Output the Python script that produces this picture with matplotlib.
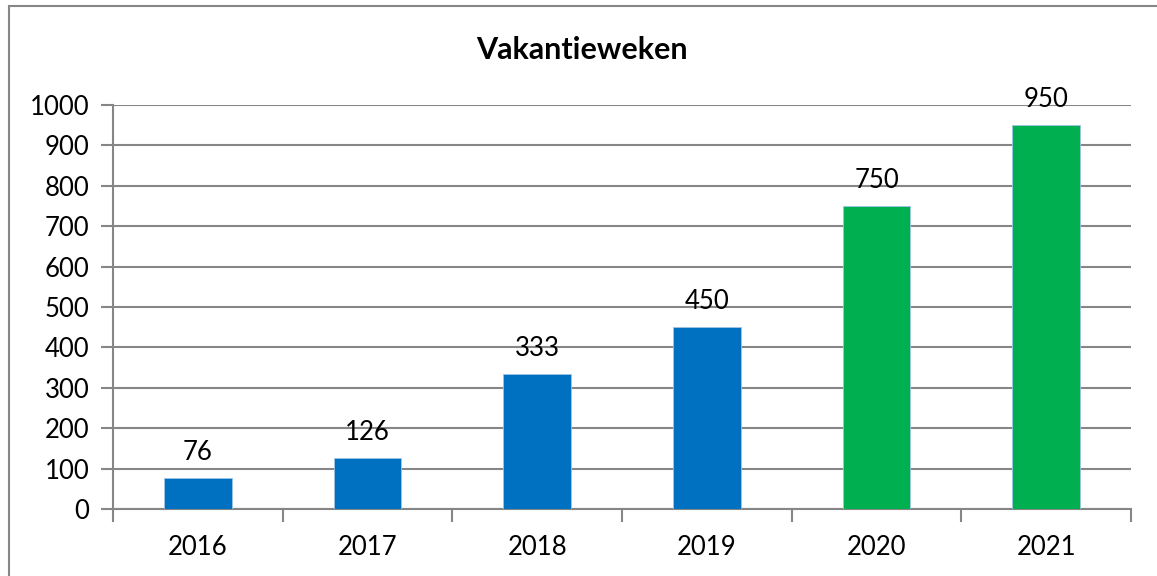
import matplotlib.pyplot as plt
import matplotlib.patches as mpatches

# data
years = ["2016", "2017", "2018", "2019", "2020", "2021"]
weeks = [76, 126, 333, 450, 750, 950]
bar_colors = ["#0070C0", "#0070C0", "#0070C0", "#0070C0", "#00B050", "#00B050"]
y_ticks = list(range(0, 1001, 100))

plt.rcParams["font.family"] = ["Lato", "DejaVu Sans"]
FS = 18.5

fig = plt.figure(figsize=(11.57, 5.76), dpi=100)
ax = fig.add_axes([113 / 1157, 1 - 509 / 576, (1131 - 113) / 1157, (509 - 105) / 576])

# buitenrand van de grafiek (loopt door voorbij rechts/onder)
fig.patches.append(mpatches.Rectangle((9 / 1157, -0.1), 1.2, 1 - 6 / 576 + 0.1,
                                      transform=fig.transFigure, fill=False,
                                      edgecolor="#868686", linewidth=1.5))

x = list(range(len(years)))
ax.bar(x, weeks, width=0.4, color=bar_colors, edgecolor="#9DC3E6",
       linewidth=0.6, zorder=3)

for xi, v in zip(x, weeks):
    ax.text(xi, v + 45, str(v), ha="center", va="baseline", fontsize=FS)

ax.set_xlim(-0.5, len(years) - 0.5)
ax.set_ylim(0, 1000)
ax.set_yticks(y_ticks)
ax.set_yticklabels([str(t) for t in y_ticks], fontsize=FS)

# categorie-ticks tussen de staven
ax.set_xticks([i - 0.5 for i in range(len(years) + 1)])
ax.set_xticklabels([])
ax.set_xticks(x, minor=True)
ax.set_xticklabels(years, minor=True, fontsize=FS)
ax.tick_params(axis="x", which="major", length=9, color="#868686", width=1.5, direction="out")
ax.tick_params(axis="x", which="minor", length=0, pad=19)
ax.tick_params(axis="y", length=9, color="#868686", width=1.5, pad=8)

ax.yaxis.grid(True, color="#868686", linewidth=1.5, zorder=0)
ax.set_axisbelow(True)
for side in ["top", "right"]:
    ax.spines[side].set_visible(False)
for side in ["left", "bottom"]:
    ax.spines[side].set_color("#868686")
    ax.spines[side].set_linewidth(1.5)

fig.text(582 / 1157, 1 - 50 / 576, "Vakantieweken", ha="center", va="center",
         fontsize=22, fontweight="bold")

fig.savefig("out.png", dpi=100)
